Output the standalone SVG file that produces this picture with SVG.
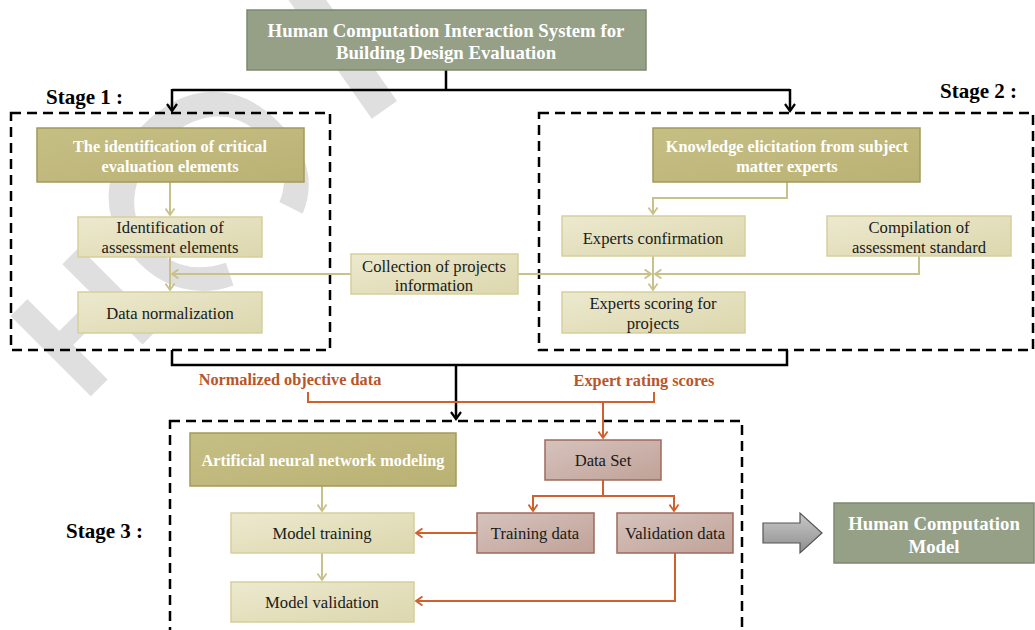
<svg xmlns="http://www.w3.org/2000/svg" width="1035" height="630" viewBox="0 0 1035 630">
<defs>
  <linearGradient id="gLight" x1="0" y1="0" x2="1" y2="1"><stop offset="0" stop-color="#ece9cf"/><stop offset="1" stop-color="#dcd7ad"/></linearGradient>
  <linearGradient id="gOlive" x1="0" y1="0" x2="1" y2="1"><stop offset="0" stop-color="#c6bf84"/><stop offset="1" stop-color="#bab174"/></linearGradient>
  <linearGradient id="gRose" x1="0" y1="0" x2="1" y2="1"><stop offset="0" stop-color="#d6c3bd"/><stop offset="1" stop-color="#c0a298"/></linearGradient>
  <linearGradient id="gGray" x1="0" y1="0" x2="0" y2="1"><stop offset="0" stop-color="#c9c9c9"/><stop offset="1" stop-color="#8e8e8e"/></linearGradient>
  <marker id="ab" viewBox="0 0 12 12" refX="10" refY="6" markerWidth="12" markerHeight="12" markerUnits="userSpaceOnUse" orient="auto"><path d="M3,1 L10,6 L3,11" fill="none" stroke="#000" stroke-width="2.2"/></marker>
  <marker id="ao" viewBox="0 0 12 12" refX="10" refY="6" markerWidth="11" markerHeight="11" markerUnits="userSpaceOnUse" orient="auto"><path d="M3,1 L10,6 L3,11" fill="none" stroke="#c9c189" stroke-width="2"/></marker>
  <marker id="ar" viewBox="0 0 12 12" refX="10" refY="6" markerWidth="11" markerHeight="11" markerUnits="userSpaceOnUse" orient="auto"><path d="M3,1 L10,6 L3,11" fill="none" stroke="#d0602c" stroke-width="2"/></marker>
</defs>
<style>
  .wm{font-family:"Liberation Sans",Arial,sans-serif;fill:#dfdfdf}
  .dash{fill:none;stroke:#000;stroke-width:2.5;stroke-dasharray:10 6}
  .green{fill:#95a087;stroke:#7d8870;stroke-width:1.5}
  .olive{fill:url(#gOlive);stroke:#a39a5c;stroke-width:1.5}
  .light{fill:url(#gLight);stroke:#d6cf9c;stroke-width:1.5}
  .rose{fill:url(#gRose);stroke:#a0695c;stroke-width:1.5}
  .t{font-family:"Liberation Serif","Times New Roman",serif;font-size:16.6px;fill:#1a1a1a;text-anchor:middle;dominant-baseline:central}
  .tw{font-family:"Liberation Serif","Times New Roman",serif;font-size:16.3px;font-weight:bold;fill:#fff;text-anchor:middle;dominant-baseline:central}
  .th{font-family:"Liberation Serif","Times New Roman",serif;font-size:18.8px;font-weight:bold;fill:#fff;text-anchor:middle;dominant-baseline:central}
  .stage{font-family:"Liberation Serif","Times New Roman",serif;font-size:21px;font-weight:bold;fill:#000}
  .lbl{font-family:"Liberation Serif","Times New Roman",serif;font-size:16.3px;font-weight:bold;fill:#b8552a;text-anchor:middle;dominant-baseline:central}
  .cb{stroke:#000;stroke-width:2.5;fill:none}
  .co{stroke:#c9c189;stroke-width:2;fill:none}
  .cr{stroke:#d0602c;stroke-width:2;fill:none}
</style>
<rect width="1035" height="630" fill="#fff"/>

<g id="watermark">
  <text class="wm" x="83" y="404" font-size="165" font-weight="bold" transform="rotate(-45 83 404)">H</text>
  <text class="wm" x="64" y="184" font-size="280" transform="rotate(45 64 184)">C</text>
  <text class="wm" x="360" y="127" font-size="214" font-weight="bold" transform="rotate(-35 360 127)">I</text>
</g>

<g id="stages">
  <rect class="dash" x="11" y="113" width="319" height="237"/>
  <rect class="dash" x="539" y="113" width="494" height="237"/>
  <rect class="dash" x="170" y="421" width="572" height="240"/>
  <text class="stage" x="46" y="104">Stage 1 :</text>
  <text class="stage" x="940" y="98">Stage 2 :</text>
  <text class="stage" x="66" y="538">Stage 3 :</text>
</g>

<g id="connectors">
  <path class="cb" d="M446,70 V90 M172,90 H790"/>
  <path class="cb" d="M172,89 V111" marker-end="url(#ab)"/>
  <path class="cb" d="M790,89 V111" marker-end="url(#ab)"/>
  <path class="cb" d="M172,350 V365 H787 V350"/>
  <path class="cb" d="M456,365 V419" marker-end="url(#ab)"/>

  <path class="co" d="M170,182 V215" marker-end="url(#ao)"/>
  <path class="co" d="M170,257 V290" marker-end="url(#ao)"/>
  <path class="co" d="M351,274 H172" marker-end="url(#ao)"/>
  <path class="co" d="M518,274 H651" marker-end="url(#ao)"/>
  <path class="co" d="M787,182 V198 H653 V214" marker-end="url(#ao)"/>
  <path class="co" d="M919,256 V274 H655" marker-end="url(#ao)"/>
  <path class="co" d="M653,256 V290" marker-end="url(#ao)"/>
  <path class="co" d="M322,486 V511" marker-end="url(#ao)"/>
  <path class="co" d="M322,553 V580" marker-end="url(#ao)"/>

  <path class="cr" d="M308,392 V402 H654 V392"/>
  <path class="cr" d="M603,402 V438" marker-end="url(#ar)"/>
  <path class="cr" d="M603,480 V496 M533,496 H674"/>
  <path class="cr" d="M533,495 V511" marker-end="url(#ar)"/>
  <path class="cr" d="M674,495 V511" marker-end="url(#ar)"/>
  <path class="cr" d="M477,533 H416" marker-end="url(#ar)"/>
  <path class="cr" d="M675,553 V601 H416" marker-end="url(#ar)"/>

  <polygon points="763,523 800,523 800,513 822,533 800,553 800,543 763,543" fill="url(#gGray)" stroke="#555" stroke-width="1.2"/>
  <text class="lbl" x="290" y="379">Normalized objective data</text>
  <text class="lbl" x="644" y="380">Expert rating scores</text>
</g>

<g id="n-header"><rect class="green" x="247" y="10" width="399" height="60"/>
  <text class="th" x="446" y="30">Human Computation Interaction System for</text>
  <text class="th" x="446" y="52">Building Design Evaluation</text></g>

<g id="n-critical"><rect class="olive" x="37" y="128" width="267" height="54"/>
  <text class="tw" x="170" y="146">The identification of critical</text>
  <text class="tw" x="170" y="166">evaluation elements</text></g>
<g id="n-identification"><rect class="light" x="78" y="217" width="184" height="40"/>
  <text class="t" x="170" y="227">Identification of</text>
  <text class="t" x="170" y="247">assessment elements</text></g>
<g id="n-normalization"><rect class="light" x="78" y="292" width="184" height="41"/>
  <text class="t" x="170" y="313">Data normalization</text></g>
<g id="n-collection"><rect class="light" x="351" y="254" width="167" height="40"/>
  <text class="t" x="434" y="266">Collection of projects</text>
  <text class="t" x="434" y="285">information</text></g>

<g id="n-knowledge"><rect class="olive" x="653" y="128" width="267" height="54"/>
  <text class="tw" x="787" y="146">Knowledge elicitation from subject</text>
  <text class="tw" x="787" y="166">matter experts</text></g>
<g id="n-confirmation"><rect class="light" x="562" y="216" width="183" height="40"/>
  <text class="t" x="653" y="238">Experts confirmation</text></g>
<g id="n-compilation"><rect class="light" x="827" y="216" width="184" height="40"/>
  <text class="t" x="919" y="227">Compilation of</text>
  <text class="t" x="919" y="247">assessment standard</text></g>
<g id="n-scoring"><rect class="light" x="562" y="292" width="183" height="41"/>
  <text class="t" x="653" y="303">Experts scoring for</text>
  <text class="t" x="653" y="323">projects</text></g>

<g id="n-ann"><rect class="olive" x="190" y="433" width="266" height="53"/>
  <text class="tw" x="323" y="460">Artificial neural network modeling</text></g>
<g id="n-training"><rect class="light" x="231" y="513" width="183" height="40"/>
  <text class="t" x="322" y="533">Model training</text></g>
<g id="n-validation"><rect class="light" x="231" y="582" width="183" height="40"/>
  <text class="t" x="322" y="602">Model validation</text></g>
<g id="n-dataset"><rect class="rose" x="545" y="440" width="116" height="40"/>
  <text class="t" x="603" y="460">Data Set</text></g>
<g id="n-trainingdata"><rect class="rose" x="477" y="513" width="117" height="40"/>
  <text class="t" x="535" y="533">Training data</text></g>
<g id="n-validationdata"><rect class="rose" x="617" y="513" width="116" height="40"/>
  <text class="t" x="675" y="533">Validation data</text></g>

<g id="n-hcm"><rect class="green" x="834" y="503" width="200" height="60"/>
  <text class="th" x="934" y="523">Human Computation</text>
  <text class="th" x="934" y="546">Model</text></g>
</svg>
